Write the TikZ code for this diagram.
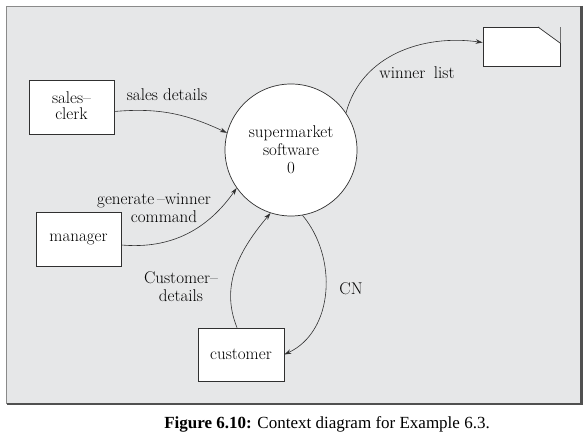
\documentclass[tikz,border=0pt]{standalone}
\usepackage{fontspec}
\usepackage{tikz}
\usetikzlibrary{arrows.meta}
\newfontfamily\captionfont{Liberation Serif}
\definecolor{panel}{HTML}{E6E7E8}
\definecolor{panelborder}{HTML}{8A8A8A}
\definecolor{shadow}{HTML}{505050}
\definecolor{flowline}{HTML}{303030}
\tikzset{
  entity/.style={draw=flowline, fill=white, line width=0.7pt, minimum width=85pt, minimum height=54pt, font=\dfdfont},
  process/.style={circle, draw=flowline, fill=white, line width=0.7pt, minimum size=132pt, align=center, font=\dfdfont},
  flow/.style={draw=flowline, line width=0.6pt, -{Stealth[length=7pt,width=4.5pt]}},
  flowlabel/.style={align=center, font=\dfdfont}
}
\newcommand{\dfdfont}{\fontsize{17}{18}\selectfont}

\begin{document}
\begin{tikzpicture}[x=1pt,y=1pt]
  \useasboundingbox (0,0) rectangle (585,435);
  \fill[white] (0,0) rectangle (585,435);

  % Gray panel with shadow
  \fill[panel] (6,32) rectangle (581,429);
  \draw[panelborder, line width=0.8pt] (6,32) rectangle (581,429);
  \draw[shadow, line width=2.5pt] (581.5,429) -- (581.5,31) -- (7,31);

  % Process bubble
  \node[process] (sw) at (291,285) {supermarket\\software\\0};

  % External entities
  \node[entity] (sales) at (71.5,327.5) {\begin{tabular}{c}sales--\\[-2pt]clerk\end{tabular}};
  \node[entity] (manager) at (78.5,196) {manager};
  \node[entity, minimum width=86pt, minimum height=53pt] (customer) at (241,80.5) {customer};

  % Output document with cut corner
  \node[draw=flowline, fill=white, line width=0.7pt, minimum width=77pt, minimum height=39pt] (winners) at (521.5,388.5) {};
  \fill[panel] (538,408.4) -- (560.4,408.4) -- (560.4,392) -- cycle;
  \draw[flowline, line width=0.7pt] (538,408) -- (560,392);

  % Data flows
  \draw[flow] ([yshift=-4pt]sales.east) to[out=5,in=155] (sw.165);
  \draw[flow] ([yshift=-6pt]manager.east) to[out=-5,in=235] (sw.215);
  \draw[flow] ([xshift=-4pt]customer.north) to[out=112,in=230] (sw.252);
  \draw[flow] (sw.280) to[out=-50,in=25] (customer.east);
  \draw[flow] (sw.34) to[out=75,in=172] ([yshift=4pt]winners.west);

  % Flow labels
  \node[flowlabel] (lsales) at (167,340) {sales details};
  \node[flowlabel] (lwinner) at (417,362) {winner\enspace list};
  \node[flowlabel] (lgen) at (154,227) {generate\,--winner\\\hspace*{20pt}command};
  \node[flowlabel] (lcust) at (181,148) {Customer--\\details};
  \node[flowlabel] (lcn) at (351,146) {CN};

  % Caption
  \node (caption) at (327,11) {\captionfont\fontsize{17}{19}\selectfont\textbf{Figure 6.10:} Context diagram for Example 6.3.};
\end{tikzpicture}
\end{document}
